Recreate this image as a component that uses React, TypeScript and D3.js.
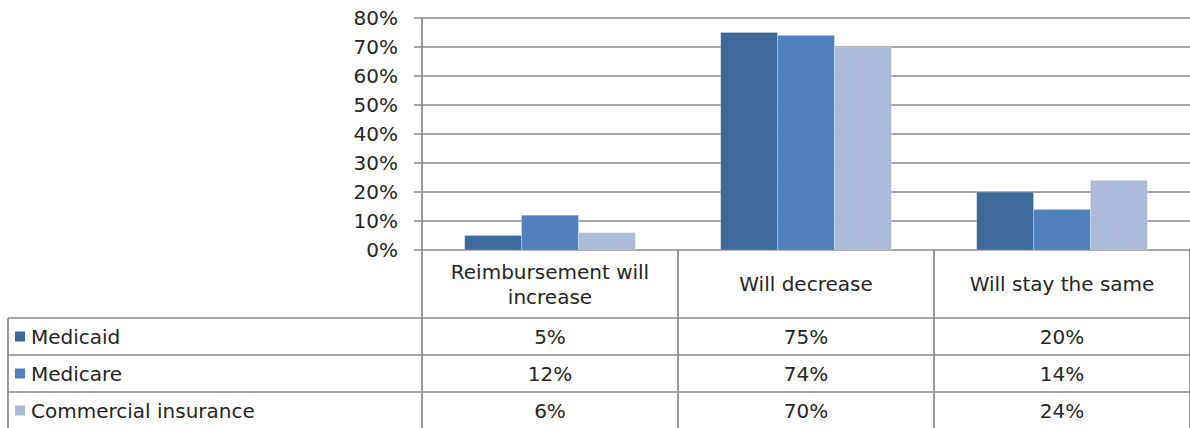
import * as d3 from "d3";

const categories = ["Reimbursement will increase", "Will decrease", "Will stay the same"];
const categoryLines = [["Reimbursement will", "increase"], ["Will decrease"], ["Will stay the same"]];
const seriesNames = ["Medicaid", "Medicare", "Commercial insurance"];
const seriesColors = ["#3E6A9B", "#4F81BD", "#AABAD7"];
const medicaid = [0.05, 0.75, 0.2];
const medicare = [0.12, 0.74, 0.14];
const commercial = [0.06, 0.7, 0.24];
const seriesValues = [medicaid, medicare, commercial];
const yTicks = [0, 0.1, 0.2, 0.3, 0.4, 0.5, 0.6, 0.7, 0.8];

const W = 1190;
const H = 428;
const plotLeft = 422;
const plotRight = 1190;
const plotTop = 18;
const plotBottom = 250;
const tableLeft = 8;
const headerBottom = 318;
const rowH = 37;
const font = "'DejaVu Sans', sans-serif";
const textColor = "#262626";
const lineColor = "#8a8a8a";

export default function App() {
  const x = d3.scaleBand<string>().domain(categories).range([plotLeft, plotRight]);
  const xInner = d3
    .scaleBand<string>()
    .domain(seriesNames)
    .range([0, x.bandwidth()])
    .paddingInner(0)
    .paddingOuter(0.75);
  const y = d3.scaleLinear().domain([0, 0.8]).range([plotBottom, plotTop]);
  const pct = d3.format(".0%");

  return (
    <svg
      width={W}
      height={H}
      style={{ position: "absolute", left: 0, top: 0, background: "#fff" }}
      fontFamily={font}
    >
      {/* gridlines + ticks */}
      {yTicks.map((t) => (
        <g key={t}>
          <line x1={plotLeft - 8} x2={plotRight} y1={y(t)} y2={y(t)} stroke={lineColor} strokeWidth={1.7} />
          <text x={plotLeft - 24} y={y(t)} dy="0.36em" textAnchor="end" fontSize={20} fill={textColor}>
            {pct(t)}
          </text>
        </g>
      ))}

      {/* bars */}
      {seriesNames.map((s, si) =>
        categories.map((c, ci) => (
          <rect
            key={s + c}
            x={(x(c) ?? 0) + (xInner(s) ?? 0)}
            y={y(seriesValues[si][ci])}
            width={xInner.bandwidth()}
            height={plotBottom - y(seriesValues[si][ci])}
            fill={seriesColors[si]}
            stroke="rgba(255,255,255,0.25)"
            strokeWidth={1}
          />
        ))
      )}

      {/* table lines */}
      <line x1={plotLeft} x2={plotLeft} y1={plotTop} y2={H} stroke={lineColor} strokeWidth={1.7} />
      {categories.map((c) => (
        <line key={c} x1={(x(c) ?? 0) + x.bandwidth()} x2={(x(c) ?? 0) + x.bandwidth()} y1={plotBottom} y2={H} stroke={lineColor} strokeWidth={1.7} />
      ))}
      <line x1={tableLeft} x2={tableLeft} y1={headerBottom} y2={H} stroke={lineColor} strokeWidth={1.7} />
      {seriesNames.map((s, si) => (
        <line key={s} x1={tableLeft} x2={plotRight} y1={headerBottom + si * rowH} y2={headerBottom + si * rowH} stroke={lineColor} strokeWidth={1.7} />
      ))}

      {/* category headers */}
      {categories.map((c, ci) => {
        const lines = categoryLines[ci];
        const cy = (plotBottom + headerBottom) / 2;
        return (
          <text key={c} textAnchor="middle" fontSize={20} fill={textColor}>
            {lines.map((l, li) => (
              <tspan key={l} x={(x(c) ?? 0) + x.bandwidth() / 2} y={cy + (li - (lines.length - 1) / 2) * 25} dy="0.36em">
                {l}
              </tspan>
            ))}
          </text>
        );
      })}

      {/* rows */}
      {seriesNames.map((s, si) => {
        const cy = headerBottom + si * rowH + rowH / 2;
        return (
          <g key={s}>
            <rect x={15} y={cy - 5} width={10} height={10} fill={seriesColors[si]} />
            <text x={31} y={cy} dy="0.36em" fontSize={20} fill={textColor}>
              {s}
            </text>
            {categories.map((c, ci) => (
              <text key={c} x={(x(c) ?? 0) + x.bandwidth() / 2} y={cy} dy="0.36em" textAnchor="middle" fontSize={20} fill={textColor}>
                {pct(seriesValues[si][ci])}
              </text>
            ))}
          </g>
        );
      })}
    </svg>
  );
}
